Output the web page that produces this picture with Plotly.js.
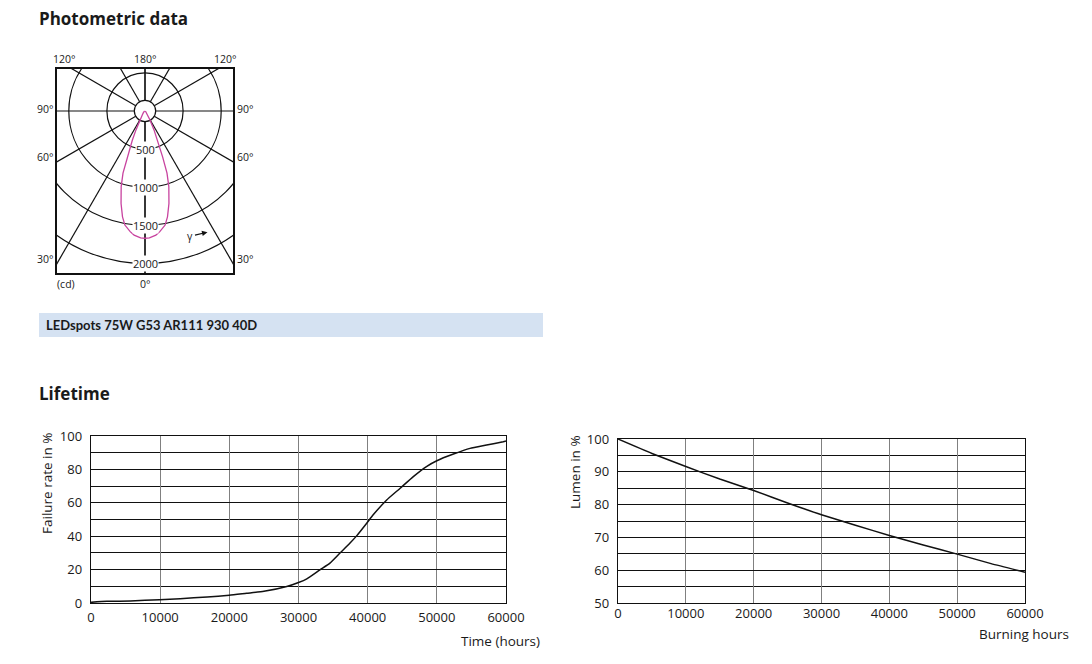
<!DOCTYPE html>
<html>
<head>
<meta charset="utf-8">
<script src="https://cdn.plot.ly/plotly-3.0.1.min.js"></script>
<style>
  html, body { margin: 0; padding: 0; background: #fff; }
  #chart { width: 1092px; height: 664px; }
</style>
</head>
<body>
<div id="chart"></div>
<script>
// ---------- Data ----------
// Polar light distribution (symmetric): angle gamma (deg) vs luminous intensity (cd)
const polarGamma     = [0, 2, 5, 7, 10, 12, 14.5, 17.5, 19.5, 21, 23.5, 25.5, 29, 35, 45, 60, 90];
const polarIntensity = [1670, 1665, 1635, 1595, 1520, 1420, 1255, 1040, 865, 645, 415, 275, 135, 60, 30, 15, 5];
const polarRings     = [500, 1000, 1500, 2000];
const polarHub       = 140;
const polarSpokes    = [0, 30, 60, 90, 120, 150, 180];

// Failure rate
const failureHours = [0, 2300, 5700, 9900, 12900, 16800, 20000, 22500, 25000, 28300, 30000, 31200, 33100, 34550, 36000, 37450, 38400, 39860, 40800, 42750, 44700, 46600, 48500, 50000, 52400, 54800, 57200, 59600, 60000];
const failureRate  = [0.4, 1.0, 1.2, 2.0, 2.6, 3.6, 4.6, 5.8, 7.0, 9.9, 12.3, 14.5, 19.9, 23.9, 29.9, 35.9, 40.2, 47.8, 52.8, 61.7, 68.7, 75.7, 81.7, 85.2, 89.2, 92.6, 94.6, 96.6, 97.0];

// Lumen maintenance
const lumenHours = [0, 5000, 10000, 15000, 20000, 25000, 30000, 35000, 40000, 45000, 50000, 55000, 60000];
const lumenPct   = [100, 95.6, 91.6, 87.8, 84.3, 80.5, 76.9, 73.7, 70.6, 67.7, 64.9, 62.0, 59.4];

// ---------- Build polar curve (mirror the symmetric distribution) ----------
const rad = d => d * Math.PI / 180;
const curveX = [], curveY = [];
for (let i = polarGamma.length - 1; i >= 1; i--) {
  curveX.push(-polarIntensity[i] * Math.sin(rad(polarGamma[i])));
  curveY.push(-polarIntensity[i] * Math.cos(rad(polarGamma[i])));
}
for (let i = 0; i < polarGamma.length; i++) {
  curveX.push(polarIntensity[i] * Math.sin(rad(polarGamma[i])));
  curveY.push(-polarIntensity[i] * Math.cos(rad(polarGamma[i])));
}

const W = 1092, H = 664;
const px = v => v / W;
const py = v => 1 - v / H;
const FONT = 'Lato, "Open Sans", sans-serif';
const FONT2 = '"Open Sans", Lato, sans-serif';
const TXT = '#1a1a1a';

const shapes = [];
// rings
polarRings.forEach(r => shapes.push({type: 'circle', xref: 'x', yref: 'y', x0: -r, x1: r, y0: -r, y1: r,
  line: {color: '#111', width: 1.2}, layer: 'below'}));
// spokes (both sides)
polarSpokes.forEach(a => {
  [1, -1].forEach(s => {
    const dx = s * Math.sin(rad(a)), dy = -Math.cos(rad(a));
    shapes.push({type: 'line', xref: 'x', yref: 'y', x0: dx * polarHub, y0: dy * polarHub, x1: dx * 4000, y1: dy * 4000,
      line: {color: '#111', width: 1.2}, layer: 'below'});
  });
});
// hub
shapes.push({type: 'circle', xref: 'x', yref: 'y', x0: -polarHub, x1: polarHub, y0: -polarHub, y1: polarHub,
  fillcolor: '#fff', line: {color: '#111', width: 1.2}, layer: 'below'});
// product label bar
shapes.push({type: 'rect', xref: 'paper', yref: 'paper', x0: px(39), x1: px(543), y0: py(337), y1: py(313),
  fillcolor: '#d5e2f2', line: {width: 0}, layer: 'below'});

const annotations = [];
const ann = (o) => annotations.push(Object.assign({showarrow: false, xanchor: 'center', yanchor: 'middle',
  font: {family: FONT2, size: 10.5, color: TXT}}, o));

// Titles
ann({xref: 'paper', yref: 'paper', x: px(37), y: py(18), xanchor: 'left', text: '<b>Photometric data</b>', font: {family: FONT2, size: 17, color: TXT}});
ann({xref: 'paper', yref: 'paper', x: px(37), y: py(393), xanchor: 'left', text: '<b>Lifetime</b>', font: {family: FONT2, size: 17, color: TXT}});
ann({xref: 'paper', yref: 'paper', x: px(44), y: py(325), xanchor: 'left', text: '<b>LEDspots 75W G53 AR111 930 40D</b>', font: {family: FONT, size: 13, color: TXT}});

// ring labels
polarRings.forEach(r => ann({xref: 'x', yref: 'y', x: 0, y: -r, text: String(r), bgcolor: '#fff', borderpad: 0,
  font: {family: FONT2, size: 11, color: TXT}}));

// angle labels around the box
const XE = 1155, YT = 551, YB = -2126;
ann({xref: 'x', yref: 'y', x: -1063, y: YT, yanchor: 'bottom', yshift: 1, text: '120°'});
ann({xref: 'x', yref: 'y', x: 0, y: YT, yanchor: 'bottom', yshift: 1, text: '180°'});
ann({xref: 'x', yref: 'y', x: 1063, y: YT, yanchor: 'bottom', yshift: 1, text: '120°'});
[[90, 26], [60, -604], [30, -1942]].forEach(([a, yv]) => {
  ann({xref: 'x', yref: 'y', x: -XE, y: yv, xanchor: 'right', xshift: -1, text: a + '°'});
  ann({xref: 'x', yref: 'y', x: XE, y: yv, xanchor: 'left', xshift: 2, text: a + '°'});
});
ann({xref: 'x', yref: 'y', x: 0, y: YB, yanchor: 'top', yshift: -2, text: '0°'});
ann({xref: 'x', yref: 'y', x: -1040, y: YB, yanchor: 'top', yshift: -2, text: '(cd)'});
// gamma arrow
annotations.push({xref: 'x', yref: 'y', x: 820, y: -1590, ax: -17, ay: 4, text: 'γ', showarrow: true,
  arrowhead: 2, arrowsize: 1, arrowwidth: 1.1, arrowcolor: '#111', standoff: 0, startstandoff: 0,
  font: {family: FONT2, size: 10.5, color: TXT}});

// axis titles of lifetime charts
ann({xref: 'paper', yref: 'paper', x: px(47), y: py(484), textangle: -90, text: 'Failure rate in %', font: {family: FONT2, size: 13.5, color: TXT}});
ann({xref: 'paper', yref: 'paper', x: px(542), y: py(641), xanchor: 'right', text: 'Time (hours)', font: {family: FONT2, size: 13.5, color: TXT}});
ann({xref: 'paper', yref: 'paper', x: px(575), y: py(472), textangle: -90, text: 'Lumen in %', font: {family: FONT2, size: 13.5, color: TXT}});
ann({xref: 'paper', yref: 'paper', x: px(1071), y: py(634), xanchor: 'right', text: 'Burning hours', font: {family: FONT2, size: 13.5, color: TXT}});

const traces = [
  {type: 'scatter', mode: 'lines', x: curveX, y: curveY, xaxis: 'x', yaxis: 'y',
   line: {color: '#c8439f', width: 1.3}, hoverinfo: 'skip'},
  {type: 'scatter', mode: 'lines', x: failureHours, y: failureRate, xaxis: 'x2', yaxis: 'y2',
   line: {color: '#111', width: 1.5, shape: 'spline', smoothing: 0.5}, hoverinfo: 'skip'},
  {type: 'scatter', mode: 'lines', x: lumenHours, y: lumenPct, xaxis: 'x3', yaxis: 'y3',
   line: {color: '#111', width: 1.5, shape: 'spline', smoothing: 0.5}, hoverinfo: 'skip'}
];

const tickfont = {family: FONT2, size: 13, color: TXT};
const frame = {showline: true, mirror: true, linecolor: '#111', linewidth: 1.3, zeroline: false, ticks: '', fixedrange: true};

const layout = {
  width: W, height: H,
  margin: {l: 0, r: 0, t: 0, b: 0},
  paper_bgcolor: '#fff', plot_bgcolor: '#fff',
  showlegend: false,
  font: {family: FONT2, color: TXT},
  xaxis: Object.assign({}, frame, {domain: [px(57), px(233)], range: [-XE, XE], showgrid: false, showticklabels: false, linewidth: 2}),
  yaxis: Object.assign({}, frame, {domain: [py(273), py(69)], range: [YB, YT], showgrid: false, showticklabels: false, linewidth: 2}),
  xaxis2: Object.assign({}, frame, {domain: [px(91), px(506)], range: [0, 60000], dtick: 10000, tick0: 0,
    tickformat: 'd', showgrid: true, gridcolor: '#808080', gridwidth: 1, tickfont: tickfont, ticklabelstandoff: 2, anchor: 'y2'}),
  yaxis2: Object.assign({}, frame, {domain: [py(603), py(436)], range: [0, 100], dtick: 20, tick0: 0,
    showgrid: true, gridcolor: '#111', gridwidth: 1, tickfont: tickfont, ticklabelstandoff: 5, anchor: 'x2',
    minor: {dtick: 10, tick0: 0, showgrid: true, gridcolor: '#111', gridwidth: 1}}),
  xaxis3: Object.assign({}, frame, {domain: [px(618), px(1025)], range: [0, 60000], dtick: 10000, tick0: 0,
    tickformat: 'd', showgrid: true, gridcolor: '#808080', gridwidth: 1, tickfont: tickfont, ticklabelstandoff: -2, anchor: 'y3'}),
  yaxis3: Object.assign({}, frame, {domain: [py(603), py(439)], range: [50, 100], dtick: 10, tick0: 50,
    showgrid: true, gridcolor: '#111', gridwidth: 1, tickfont: tickfont, ticklabelstandoff: 5, anchor: 'x3',
    minor: {dtick: 5, tick0: 50, showgrid: true, gridcolor: '#111', gridwidth: 1}}),
  shapes: shapes,
  annotations: annotations
};

Plotly.newPlot('chart', traces, layout, {displayModeBar: false, staticPlot: true});
</script>
</body>
</html>
